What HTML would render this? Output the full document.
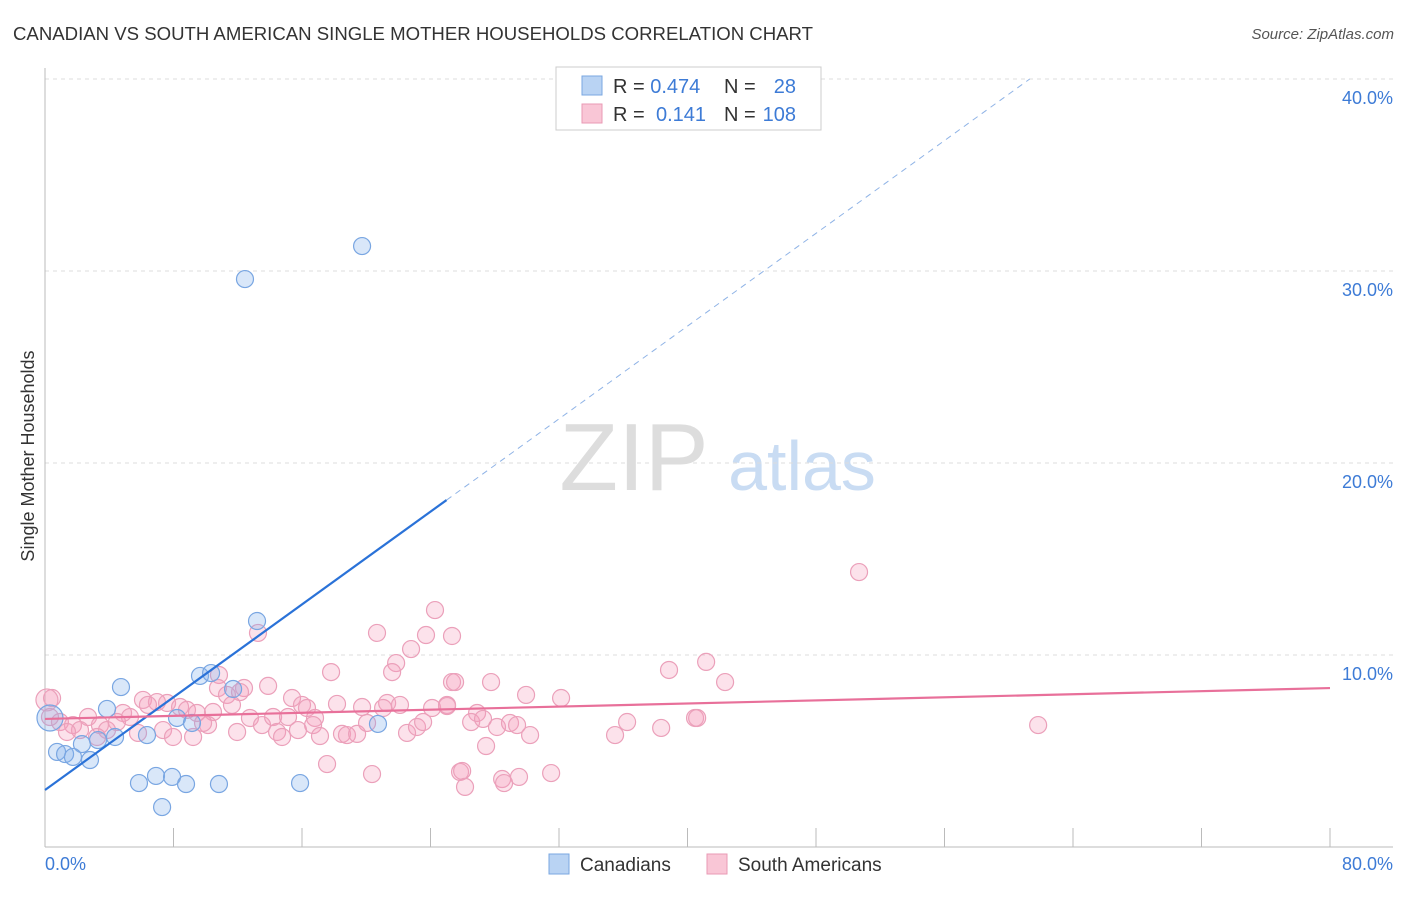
<!DOCTYPE html>
<html><head><meta charset="utf-8"><style>
body{margin:0;background:#fff;font-family:"Liberation Sans",sans-serif;}
svg text{font-family:"Liberation Sans",sans-serif;}
</style></head><body>
<svg id="chart" width="1406" height="892" xmlns="http://www.w3.org/2000/svg">
<text x="13" y="40" font-size="18.6" fill="#333">CANADIAN VS SOUTH AMERICAN SINGLE MOTHER HOUSEHOLDS CORRELATION CHART</text>
<text x="1394" y="39" font-size="15" fill="#555" font-style="italic" text-anchor="end">Source: ZipAtlas.com</text>
<g>
<text x="634" y="490" font-size="96" fill="#ddd" font-family="Liberation Serif,serif" text-anchor="middle">ZIP</text>
<text x="802" y="490" font-size="70" fill="#c9dcf3" text-anchor="middle">atlas</text>
</g>
<g id="grid"></g>
<g id="axes"></g>
<g id="pts"></g>
<g id="lines"></g>
<text transform="translate(34,456) rotate(-90)" font-size="18" fill="#333" text-anchor="middle">Single Mother Households</text>
<g>
<rect x="556" y="67" width="265" height="63" fill="#fff" stroke="#ccc"/>
<rect x="582" y="76" width="20" height="19" fill="#b9d3f3" stroke="#7aa7e0"/>
<rect x="582" y="104" width="20" height="19" fill="#f9c6d6" stroke="#e99ab4"/>
<text x="613" y="93" font-size="20" fill="#333">R = <tspan fill="#3d7bd6">0.474</tspan></text>
<text x="724" y="93" font-size="20" fill="#333">N =</text><text x="796" y="93" font-size="20" fill="#3d7bd6" text-anchor="end">28</text>
<text x="613" y="121" font-size="20" fill="#333">R = </text><text x="656" y="121" font-size="20" fill="#3d7bd6">0.141</text>
<text x="724" y="121" font-size="20" fill="#333">N =</text><text x="796" y="121" font-size="20" fill="#3d7bd6" text-anchor="end">108</text>
</g>
<g>
<rect x="549" y="854" width="20" height="20" fill="#b9d3f3" stroke="#7aa7e0"/>
<text x="580" y="871" font-size="19" fill="#333">Canadians</text>
<rect x="707" y="854" width="20" height="20" fill="#f9c6d6" stroke="#e99ab4"/>
<text x="738" y="871" font-size="19" fill="#333">South Americans</text>
</g>
</svg>
<script>
const yTicks=[10,20,30,40];
const xTickVals=[8,16,24,32,40,48,56,64,72,80];
const blueX=[19.74,12.45,13.20,4.73,9.65,10.34,11.71,3.86,8.22,9.15,20.73,6.35,4.36,3.30,2.30,0.75,1.25,1.74,2.80,0.31,5.85,6.91,7.91,8.78,10.83,15.88,7.29];
const blueY=[31.30,29.58,11.77,8.33,8.91,9.06,8.23,7.19,6.72,6.46,6.41,5.83,5.73,5.57,5.36,4.95,4.84,4.69,4.53,6.72,3.33,3.70,3.65,3.28,3.28,3.33,2.08];
const pinkX=[24.28,20.67,23.72,25.34,13.26,22.79,21.86,21.61,17.81,10.83,13.89,10.77,12.39,11.33,12.14,11.64,25.34,6.10,6.97,7.60,6.41,15.38,16.00,16.31,16.81,18.18,19.74,21.30,22.10,24.10,25.03,21.05,8.41,8.84,9.46,10.46,0.44,0.93,0.31,2.68,4.86,5.29,1.74,2.18,3.42,3.86,4.48,1.37,3.24,5.79,7.35,7.97,9.22,10.15,9.84,11.96,12.76,13.51,14.20,14.45,14.76,15.13,15.75,16.69,17.12,18.49,18.80,19.43,20.05,22.54,23.16,23.54,17.56,20.36,25.84,25.53,27.77,29.95,32.13,25.03,26.90,26.53,27.27,28.14,28.95,29.39,30.20,27.46,25.97,26.15,28.46,28.58,29.51,31.51,35.49,36.24,38.36,38.85,41.16,42.34,40.47,40.60,50.68,61.83,0.12];
const pinkY=[12.34,11.15,11.04,10.99,11.15,10.31,9.58,9.11,9.11,8.96,8.39,8.28,8.28,7.92,8.07,7.40,8.59,7.66,7.55,7.50,7.40,7.76,7.40,7.24,6.72,7.45,7.29,7.50,7.40,7.24,7.40,7.24,7.29,7.14,6.98,7.03,7.76,6.51,6.77,6.77,6.98,6.77,6.35,6.09,6.35,6.09,6.51,5.99,5.73,5.94,6.09,5.73,5.73,6.35,6.46,5.99,6.72,6.35,6.77,5.99,5.73,6.77,6.09,6.35,5.78,5.89,5.83,5.89,6.46,5.94,6.25,6.51,4.32,3.80,3.91,8.59,8.59,7.92,7.76,7.34,6.98,6.51,6.67,6.25,6.46,6.35,5.83,5.26,3.96,3.13,3.54,3.33,3.65,3.85,5.83,6.51,6.20,9.22,9.64,8.59,6.72,6.72,14.32,6.35,7.66];
const blueFit=[2.97,0.604];   // intercept, slope
const pinkFit=[6.67,0.0201];
const X=v=>45+v*1285/80, Y=v=>847-v*19.2;
const NS='http://www.w3.org/2000/svg';
function mk(tag,attrs,parent){const e=document.createElementNS(NS,tag);for(const k in attrs)e.setAttribute(k,attrs[k]);document.getElementById(parent).appendChild(e);return e;}
yTicks.forEach(t=>{
 const l=mk('line',{x1:45,x2:1393,y1:Y(t),y2:Y(t),stroke:'#ddd','stroke-dasharray':'4,4'},'grid');
 
 
 const tx=mk('text',{x:1393,y:Y(t)+25,'font-size':18,fill:'#3d7bd6','text-anchor':'end'},'grid');
 tx.textContent=t.toFixed(1)+'%';
 
 
});
let ax=mk('line',{x1:45,x2:1393,y1:847,y2:847,stroke:'#bbb'},'axes');


let ay=mk('line',{x1:45,x2:45,y1:68,y2:847,stroke:'#bbb'},'axes');


xTickVals.forEach(t=>{
 const x=X(t);
 const tk=mk('line',{x1:x,x2:x,y1:828,y2:847,stroke:'#bbb'},'axes');
 
 
});
let xl0=mk('text',{x:45,y:870,'font-size':18,fill:'#3d7bd6'},'axes');xl0.textContent='0.0%';


let xl1=mk('text',{x:1393,y:870,'font-size':18,fill:'#3d7bd6','text-anchor':'end'},'axes');xl1.textContent='80.0%';


pinkX.forEach((v,i)=>{
 const c=mk('circle',{cx:X(v),cy:Y(pinkY[i]),r:(i==pinkX.length-1?11:8.5),fill:'rgba(244,160,190,0.3)',stroke:'#eba0ba','stroke-width':1.2},'pts');
 
 
});
blueX.forEach((v,i)=>{
 const c=mk('circle',{cx:X(v),cy:Y(blueY[i]),r:(i==19?13:8.5),fill:'rgba(130,175,235,0.3)',stroke:'#79a6e2','stroke-width':1.2},'pts');
 
 
});
const bEnd=25, bDash=(40-blueFit[0])/blueFit[1];
let b1=mk('line',{x1:X(0),y1:Y(blueFit[0]),x2:X(bEnd),y2:Y(blueFit[0]+blueFit[1]*bEnd),stroke:'#2a72d8','stroke-width':2.2},'lines');


let b2=mk('line',{x1:X(bEnd),y1:Y(blueFit[0]+blueFit[1]*bEnd),x2:X(bDash),y2:Y(40),stroke:'#8fb3e6','stroke-width':1,'stroke-dasharray':'6,5'},'lines');


let p1=mk('line',{x1:X(0),y1:Y(pinkFit[0]),x2:X(80),y2:Y(pinkFit[0]+pinkFit[1]*80),stroke:'#e8709a','stroke-width':2.2},'lines');


</script>
</body></html>
